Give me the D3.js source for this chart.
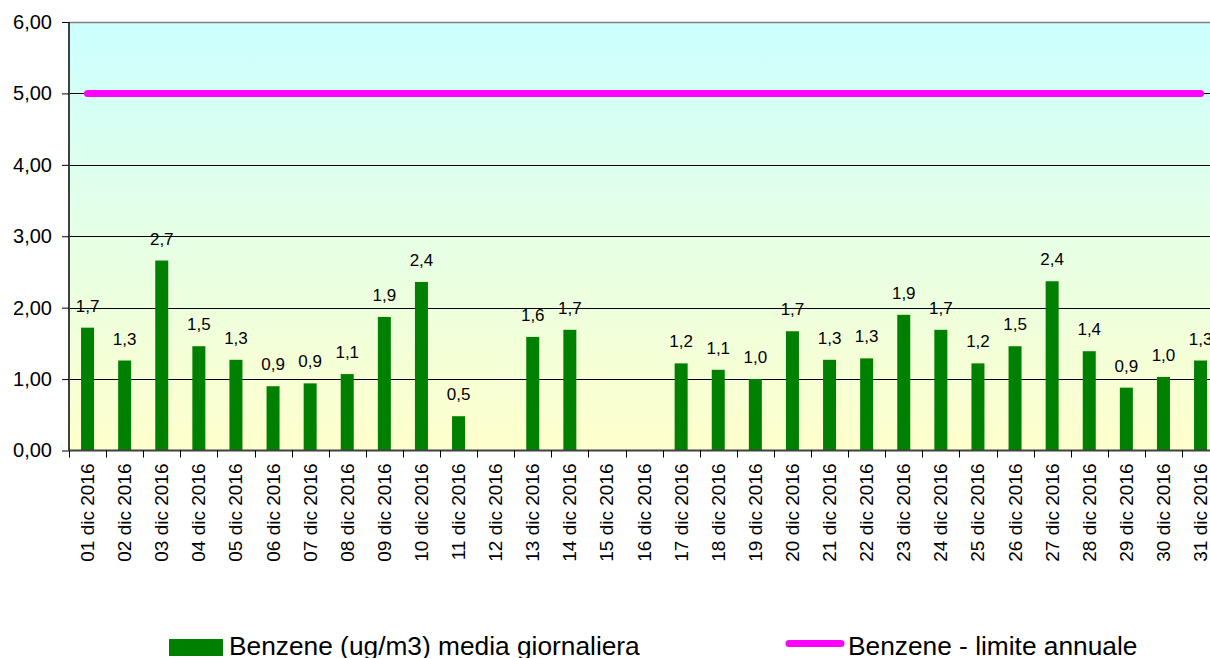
<!DOCTYPE html>
<html><head><meta charset="utf-8">
<script src="https://cdn.jsdelivr.net/npm/d3@7"></script>
<style>html,body{margin:0;padding:0;background:#fff;overflow:hidden}svg{display:block}text{font-family:"Liberation Sans",Arial,sans-serif}</style>
</head><body>
<svg id="c" width="1210" height="658"></svg>
<script>
const categories = ["01 dic 2016","02 dic 2016","03 dic 2016","04 dic 2016","05 dic 2016","06 dic 2016","07 dic 2016","08 dic 2016","09 dic 2016","10 dic 2016","11 dic 2016","12 dic 2016","13 dic 2016","14 dic 2016","15 dic 2016","16 dic 2016","17 dic 2016","18 dic 2016","19 dic 2016","20 dic 2016","21 dic 2016","22 dic 2016","23 dic 2016","24 dic 2016","25 dic 2016","26 dic 2016","27 dic 2016","28 dic 2016","29 dic 2016","30 dic 2016","31 dic 2016"];
const benzene = [1.72,1.26,2.66,1.46,1.27,0.90,0.94,1.07,1.87,2.36,0.48,null,1.59,1.69,null,null,1.22,1.13,1.00,1.67,1.27,1.29,1.90,1.69,1.22,1.46,2.37,1.39,0.88,1.03,1.26];
const limite = categories.map(() => 5);
const yTicks = [0,1,2,3,4,5,6];
const seriesNames = ["Benzene (ug/m3) media giornaliera","Benzene - limite annuale"];

const svg = d3.select("#c");
const L = 69, T = 22, B = 450.5, bw = 37.1;
const R = L + bw * categories.length;
const x = d3.scaleBand().domain(categories).range([L, R]).paddingInner(0).paddingOuter(0);
const y = d3.scaleLinear().domain([0, 6]).range([B, T]);
const fmt = v => d3.format(".2f")(v).replace(".", ",");
const fmt1 = v => d3.format(".1f")(v).replace(".", ",");

const defs = svg.append("defs");
const g = defs.append("linearGradient").attr("id","bg").attr("x1",0).attr("y1",0).attr("x2",0).attr("y2",1);
g.append("stop").attr("offset","0%").attr("stop-color","#CCFFFF");
g.append("stop").attr("offset","100%").attr("stop-color","#FFFFCC");

svg.append("rect").attr("x", L).attr("y", T).attr("width", R - L).attr("height", B - T).attr("fill", "url(#bg)");

// gridlines
svg.append("g").selectAll("line").data(yTicks.filter(d => d > 0 && d < 6)).join("line")
  .attr("x1", L).attr("x2", R).attr("y1", d => Math.round(y(d)) + 0.5).attr("y2", d => Math.round(y(d)) + 0.5)
  .attr("stroke", "#000").attr("stroke-width", 1);
// top border
svg.append("line").attr("x1", L).attr("x2", R).attr("y1", T + 0.5).attr("y2", T + 0.5).attr("stroke", "#808080").attr("stroke-width", 1.5);

// bars
const barW = 13;
const barData = categories.map((c, i) => ({c, v: benzene[i]})).filter(d => d.v != null);
svg.append("g").selectAll("rect").data(barData).join("rect")
  .attr("x", d => x(d.c) + x.bandwidth() / 2 - barW / 2)
  .attr("width", barW)
  .attr("y", d => y(d.v))
  .attr("height", d => y(0) - y(d.v))
  .attr("fill", "#008000");

// bar labels
svg.append("g").selectAll("text").data(barData).join("text")
  .attr("x", d => x(d.c) + x.bandwidth() / 2)
  .attr("y", d => y(d.v) - 16)
  .attr("text-anchor", "middle")
  .attr("font-size", 17)
  .attr("fill", "#000")
  .text(d => fmt1(d.v));

// limit line
const line = d3.line().x((d, i) => x(categories[i]) + x.bandwidth() / 2).y(d => y(d));
svg.append("path").datum(limite).attr("d", line).attr("fill", "none")
  .attr("stroke", "#FF00FF").attr("stroke-width", 7).attr("stroke-linecap", "round");

// y axis
const yAxis = d3.axisLeft(y).tickValues(yTicks).tickFormat(fmt).tickSize(7).tickPadding(10);
const ya = svg.append("g").attr("transform", `translate(${L},0)`).call(yAxis);
ya.select(".domain").attr("stroke", "#404040").attr("stroke-width", 2).attr("d", `M0,${T}V${B}`);
ya.selectAll(".tick line").attr("stroke", "#000");
ya.selectAll(".tick text").attr("font-size", 20).attr("font-family", '"Liberation Sans",Arial,sans-serif').attr("fill", "#000");

// x axis
const xa = svg.append("g").attr("transform", `translate(0,${B})`);
xa.append("line").attr("x1", L).attr("x2", R).attr("y1", 0).attr("y2", 0).attr("stroke", "#404040").attr("stroke-width", 2);
xa.selectAll("line.tk").data(d3.range(categories.length + 1)).join("line").attr("class", "tk")
  .attr("x1", i => Math.round(L + i * bw) + 0.5).attr("x2", i => Math.round(L + i * bw) + 0.5)
  .attr("y1", 0).attr("y2", 7).attr("stroke", "#000");
xa.selectAll("text").data(categories).join("text")
  .attr("transform", d => `translate(${x(d) + x.bandwidth() / 2 + 6.5},${13}) rotate(-90)`)
  .attr("text-anchor", "end")
  .attr("font-size", 19)
  .attr("fill", "#000")
  .text(d => d);

// legend
const lg = svg.append("g");
lg.append("rect").attr("x", 169).attr("y", 639).attr("width", 54).attr("height", 17).attr("fill", "#008000");
lg.append("text").attr("x", 229).attr("y", 655).attr("font-size", 26.3).attr("fill", "#000").text(seriesNames[0]);
lg.append("line").attr("x1", 789).attr("x2", 841).attr("y1", 643.5).attr("y2", 643.5)
  .attr("stroke", "#FF00FF").attr("stroke-width", 7).attr("stroke-linecap", "round");
lg.append("text").attr("x", 848).attr("y", 655).attr("font-size", 26.3).attr("fill", "#000").text(seriesNames[1]);
</script>
</body></html>
